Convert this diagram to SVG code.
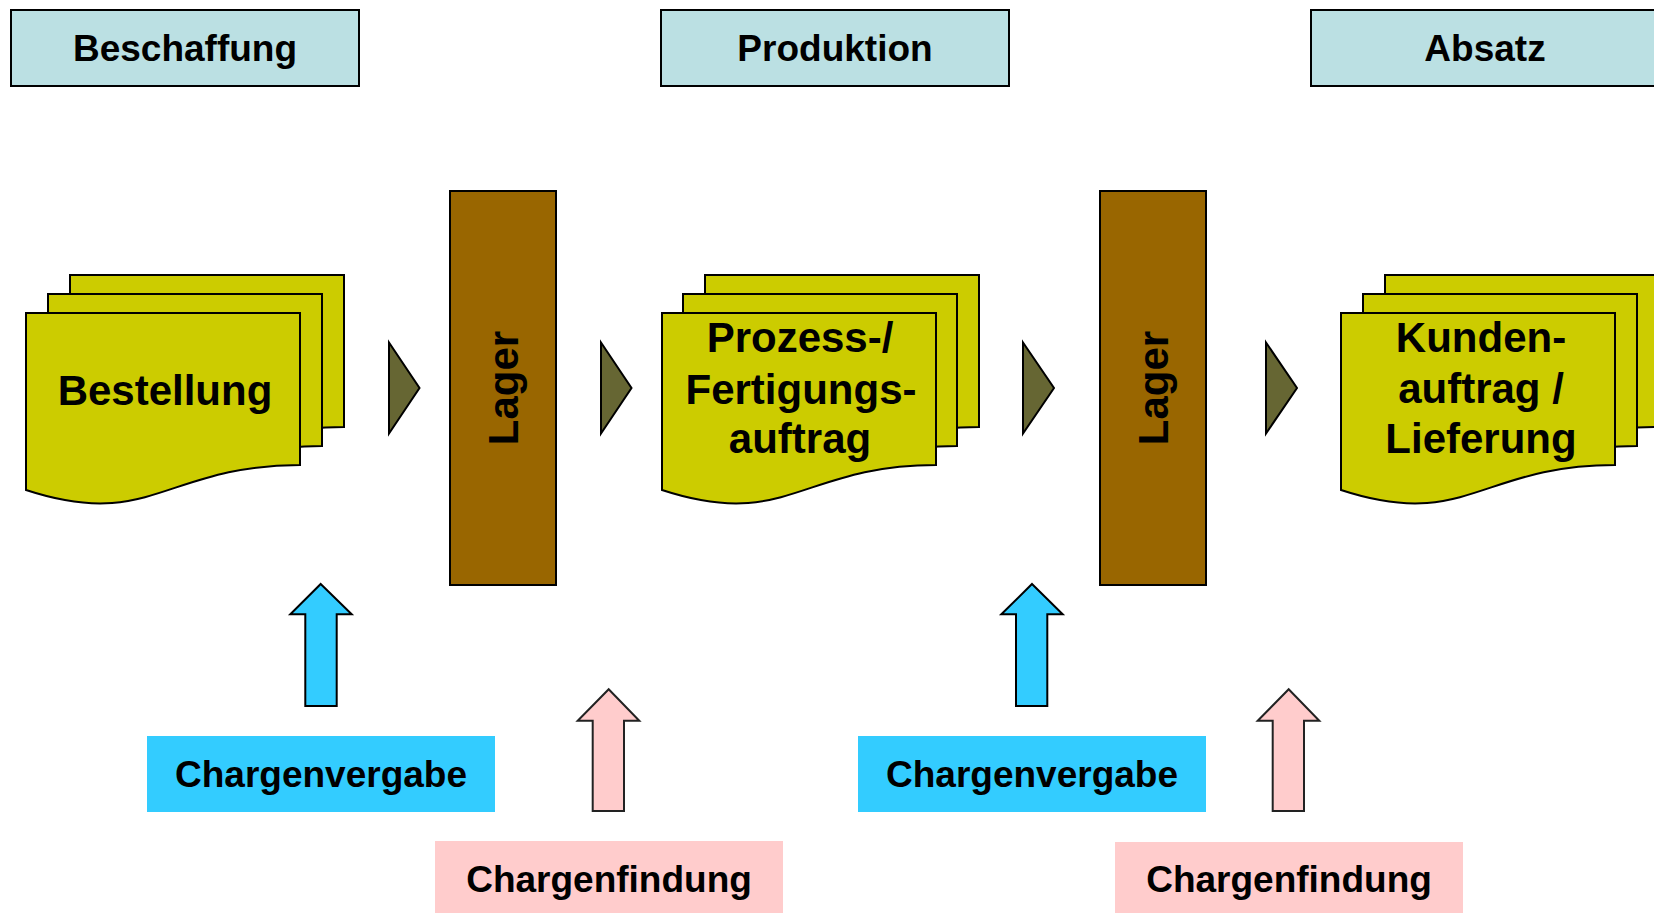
<svg xmlns="http://www.w3.org/2000/svg" width="1654" height="913" viewBox="0 0 1654 913">
  <style>
    .hdr { fill: #BBE0E3; stroke: #000; stroke-width: 2; }
    .doc { fill: #CCCC00; stroke: #000; stroke-width: 2; stroke-linejoin: miter; }
    .lager { fill: #996600; stroke: #000; stroke-width: 2; }
    .tri { fill: #666633; stroke: #000; stroke-width: 2; stroke-linejoin: miter; }
    .up-blue { fill: #33CCFF; stroke: #000; stroke-width: 2; }
    .up-pink { fill: #FFCCCC; stroke: #222; stroke-width: 2; }
    .vergabe { fill: #33CCFF; }
    .findung { fill: #FFCCCC; }
    text { font-family: "Liberation Sans", Arial, sans-serif; font-weight: bold; fill: #000; text-anchor: middle; }
    .t37 { font-size: 37px; }
    .t42 { font-size: 42px; }
  </style>
  <defs>
    <!-- flowchart "document" sheet, 274 x 189.5, wavy bottom -->
    <path id="sheet" d="M0,0 H274 V152 C140,152 125,218 0,177 Z"/>
  </defs>

  <rect width="1654" height="913" fill="#fff"/>

  <!-- column headers -->
  <g id="hdr-beschaffung">
    <rect class="hdr" x="11" y="10" width="348" height="76"/>
    <text class="t37" x="185" y="61">Beschaffung</text>
  </g>
  <g id="hdr-produktion">
    <rect class="hdr" x="661" y="10" width="348" height="76"/>
    <text class="t37" x="835" y="61">Produktion</text>
  </g>
  <g id="hdr-absatz">
    <rect class="hdr" x="1311" y="10" width="348" height="76"/>
    <text class="t37" x="1485" y="61">Absatz</text>
  </g>

  <!-- document stacks -->
  <g id="doc-bestellung">
    <use href="#sheet" class="doc" x="70" y="275"/>
    <use href="#sheet" class="doc" x="48" y="294"/>
    <use href="#sheet" class="doc" x="26" y="313"/>
    <text class="t42" x="165" y="405">Bestellung</text>
  </g>
  <g id="doc-fertigungsauftrag">
    <use href="#sheet" class="doc" x="705" y="275"/>
    <use href="#sheet" class="doc" x="683" y="294"/>
    <use href="#sheet" class="doc" x="662" y="313"/>
    <text class="t42" x="800" y="352">Prozess-/</text>
    <text class="t42" x="801" y="404">Fertigungs-</text>
    <text class="t42" x="800" y="453">auftrag</text>
  </g>
  <g id="doc-kundenauftrag">
    <use href="#sheet" class="doc" x="1385" y="275"/>
    <use href="#sheet" class="doc" x="1363" y="294"/>
    <use href="#sheet" class="doc" x="1341" y="313"/>
    <text class="t42" x="1481" y="352">Kunden-</text>
    <text class="t42" x="1481" y="403">auftrag /</text>
    <text class="t42" x="1481" y="453">Lieferung</text>
  </g>

  <!-- stock blocks -->
  <g id="lager-1">
    <rect class="lager" x="450" y="191" width="106" height="394"/>
    <text class="t42" transform="translate(518,388) rotate(-90)">Lager</text>
  </g>
  <g id="lager-2">
    <rect class="lager" x="1100" y="191" width="106" height="394"/>
    <text class="t42" transform="translate(1168,388) rotate(-90)">Lager</text>
  </g>

  <!-- batch labels -->
  <g id="vergabe-1">
    <rect class="vergabe" x="147" y="736" width="348" height="76"/>
    <text class="t37" x="321" y="787">Chargenvergabe</text>
  </g>
  <g id="vergabe-2">
    <rect class="vergabe" x="858" y="736" width="348" height="76"/>
    <text class="t37" x="1032" y="787">Chargenvergabe</text>
  </g>
  <g id="findung-1">
    <rect class="findung" x="435" y="841" width="348" height="76"/>
    <text class="t37" x="609" y="892">Chargenfindung</text>
  </g>
  <g id="findung-2">
    <rect class="findung" x="1115" y="842" width="348" height="76"/>
    <text class="t37" x="1289" y="892">Chargenfindung</text>
  </g>

  <!-- flow connectors -->
  <g id="connectors">
    <polygon class="tri" points="389,342.5 419.5,388 389,433.5"/>
    <polygon class="tri" points="601,342.5 631.5,388 601,433.5"/>
    <polygon class="tri" points="1023,342.5 1054,388 1023,433.5"/>
    <polygon class="tri" points="1266,342.5 1297,388 1266,433.5"/>

    <polygon class="up-blue" points="320.7,584 351.7,614.3 336.7,614.3 336.7,706 305.3,706 305.3,614.3 290.3,614.3"/>
    <polygon class="up-blue" points="1032,584 1062.7,614.3 1047.3,614.3 1047.3,706 1016,706 1016,614.3 1001.3,614.3"/>
    <polygon class="up-pink" points="608.7,689.3 639.3,720.7 624,720.7 624,811 592.7,811 592.7,720.7 577.7,720.7"/>
    <polygon class="up-pink" points="1288.7,689.3 1319.3,720.7 1304,720.7 1304,811 1272.7,811 1272.7,720.7 1257.7,720.7"/>
  </g>
</svg>
